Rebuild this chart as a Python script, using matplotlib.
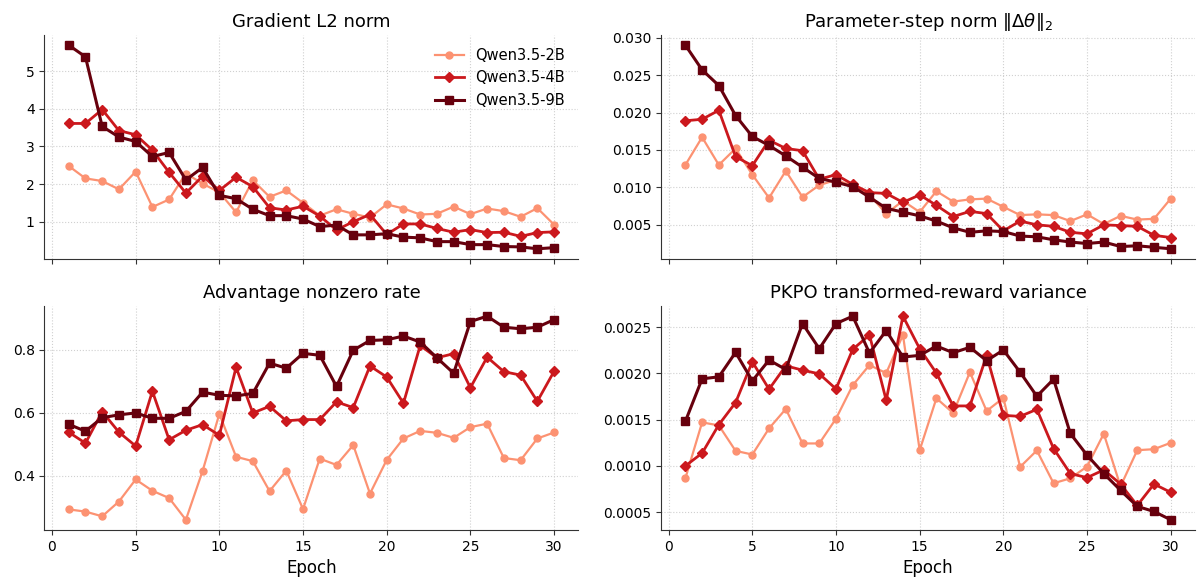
import matplotlib
matplotlib.use("Agg")
import matplotlib.pyplot as plt
from matplotlib.ticker import MultipleLocator
import numpy as np

plt.rcParams["font.family"] = ["DejaVu Sans"]
plt.rcParams["mathtext.fontset"] = "dejavusans"

epochs = list(range(1, 31))
models = ["Qwen3.5-2B", "Qwen3.5-4B", "Qwen3.5-9B"]

grad_2b = [2.48, 2.15, 2.08, 1.86, 2.33, 1.39, 1.59, 2.28, 2.01, 1.78,
           1.25, 2.10, 1.66, 1.83, 1.50, 1.16, 1.33, 1.21, 1.11, 1.46,
           1.35, 1.19, 1.21, 1.40, 1.20, 1.35, 1.28, 1.13, 1.36, 0.92]
grad_4b = [3.61, 3.61, 3.98, 3.42, 3.31, 2.90, 2.31, 1.76, 2.21, 1.83,
           2.18, 1.93, 1.37, 1.31, 1.41, 1.15, 0.78, 1.00, 1.19, 0.66,
           0.94, 0.94, 0.82, 0.72, 0.79, 0.71, 0.72, 0.61, 0.71, 0.73]
grad_9b = [5.69, 5.38, 3.53, 3.25, 3.13, 2.73, 2.84, 2.11, 2.44, 1.70,
           1.61, 1.33, 1.16, 1.16, 1.07, 0.87, 0.91, 0.65, 0.65, 0.68,
           0.59, 0.57, 0.47, 0.47, 0.39, 0.39, 0.34, 0.33, 0.28, 0.31]

step_2b = [0.0130, 0.0167, 0.0130, 0.0152, 0.0117, 0.0086, 0.0122, 0.0087, 0.0103, 0.0110,
           0.0102, 0.0090, 0.0065, 0.0082, 0.0067, 0.0095, 0.0081, 0.0084, 0.0085, 0.0074,
           0.0063, 0.0064, 0.0063, 0.0055, 0.0064, 0.0051, 0.0062, 0.0057, 0.0058, 0.0085]
step_4b = [0.0189, 0.0191, 0.0203, 0.0141, 0.0129, 0.0163, 0.0152, 0.0149, 0.0111, 0.0117,
           0.0104, 0.0093, 0.0092, 0.0080, 0.0090, 0.0076, 0.0061, 0.0068, 0.0065, 0.0042,
           0.0055, 0.0050, 0.0048, 0.0040, 0.0038, 0.0050, 0.0049, 0.0048, 0.0036, 0.0033]
step_9b = [0.0290, 0.0257, 0.0236, 0.0196, 0.0168, 0.0156, 0.0142, 0.0127, 0.0112, 0.0107,
           0.0101, 0.0087, 0.0072, 0.0067, 0.0062, 0.0055, 0.0046, 0.0040, 0.0042, 0.0041,
           0.0035, 0.0034, 0.0030, 0.0027, 0.0025, 0.0027, 0.0021, 0.0022, 0.0020, 0.0018]

adv_2b = [0.294, 0.287, 0.272, 0.319, 0.389, 0.353, 0.330, 0.261, 0.416, 0.597,
          0.461, 0.447, 0.352, 0.417, 0.295, 0.455, 0.435, 0.498, 0.344, 0.451,
          0.519, 0.543, 0.537, 0.521, 0.555, 0.566, 0.457, 0.450, 0.519, 0.538]
adv_4b = [0.539, 0.504, 0.604, 0.539, 0.495, 0.669, 0.515, 0.545, 0.563, 0.529,
          0.745, 0.600, 0.621, 0.575, 0.579, 0.579, 0.635, 0.617, 0.749, 0.714,
          0.631, 0.814, 0.775, 0.788, 0.680, 0.777, 0.731, 0.720, 0.637, 0.732]
adv_9b = [0.564, 0.542, 0.585, 0.594, 0.600, 0.583, 0.583, 0.605, 0.666, 0.656,
          0.654, 0.662, 0.758, 0.742, 0.789, 0.783, 0.684, 0.799, 0.830, 0.832,
          0.844, 0.825, 0.775, 0.726, 0.890, 0.907, 0.872, 0.867, 0.872, 0.896]

var_2b = [0.000866, 0.001471, 0.001438, 0.001163, 0.001123, 0.001406, 0.001616, 0.001243, 0.001243, 0.001511,
          0.001873, 0.002091, 0.002004, 0.002417, 0.001170, 0.001732, 0.001572, 0.002014, 0.001594, 0.001736,
          0.000989, 0.001167, 0.000812, 0.000866, 0.000993, 0.001348, 0.000779, 0.001170, 0.001181, 0.001250]
var_4b = [0.001000, 0.001138, 0.001446, 0.001685, 0.002127, 0.001830, 0.002083, 0.002036, 0.001996, 0.001833,
          0.002261, 0.002417, 0.001710, 0.002620, 0.002268, 0.002004, 0.001649, 0.001649, 0.002196, 0.001547,
          0.001536, 0.001612, 0.001188, 0.000917, 0.000873, 0.000957, 0.000804, 0.000572, 0.000804, 0.000714]
var_9b = [0.001482, 0.001942, 0.001964, 0.002228, 0.001920, 0.002145, 0.002043, 0.002540, 0.002268, 0.002540,
          0.002620, 0.002221, 0.002464, 0.002178, 0.002196, 0.002297, 0.002225, 0.002283, 0.002138, 0.002254,
          0.002014, 0.001754, 0.001938, 0.001351, 0.001116, 0.000917, 0.000736, 0.000562, 0.000507, 0.000417]

titles = ["Gradient L2 norm", r"Parameter-step norm $\|\Delta\theta\|_2$",
          "Advantage nonzero rate", "PKPO transformed-reward variance"]
panels = [(grad_2b, grad_4b, grad_9b), (step_2b, step_4b, step_9b),
          (adv_2b, adv_4b, adv_9b), (var_2b, var_4b, var_9b)]

colors = ["#fc9272", "#cb181d", "#67000d"]
markers = ["o", "D", "s"]
msizes = [5, 5.5, 6]
lws = [1.6, 2.0, 2.2]

fig, axes = plt.subplots(2, 2, figsize=(11.98, 5.86), dpi=100, sharex=True)
fig.subplots_adjust(left=0.0371, right=0.9975, bottom=0.0956, top=0.9403,
                    wspace=0.155, hspace=0.21)

for ax, title, series in zip(axes.flat, titles, panels):
    for vals, name, c, m, ms, lw in zip(series, models, colors, markers, msizes, lws):
        ax.plot(epochs, vals, color=c, marker=m, markersize=ms, linewidth=lw, label=name)
    ax.set_title(title, fontsize=13)
    ax.grid(True, linestyle=":", color="#d0d0d0", linewidth=0.8)
    ax.spines["top"].set_visible(False)
    ax.spines["right"].set_visible(False)
    for s in ("left", "bottom"):
        ax.spines[s].set_color("#333333")
    ax.tick_params(labelsize=10, color="#333333")
    ax.set_xticks([0, 5, 10, 15, 20, 25, 30])

axes[1, 0].yaxis.set_major_locator(MultipleLocator(0.2))
axes[0, 0].legend(loc="upper right", frameon=False, fontsize=10.5)
for ax in axes[1]:
    ax.set_xlabel("Epoch", fontsize=12)

fig.savefig("out.png", dpi=100)
